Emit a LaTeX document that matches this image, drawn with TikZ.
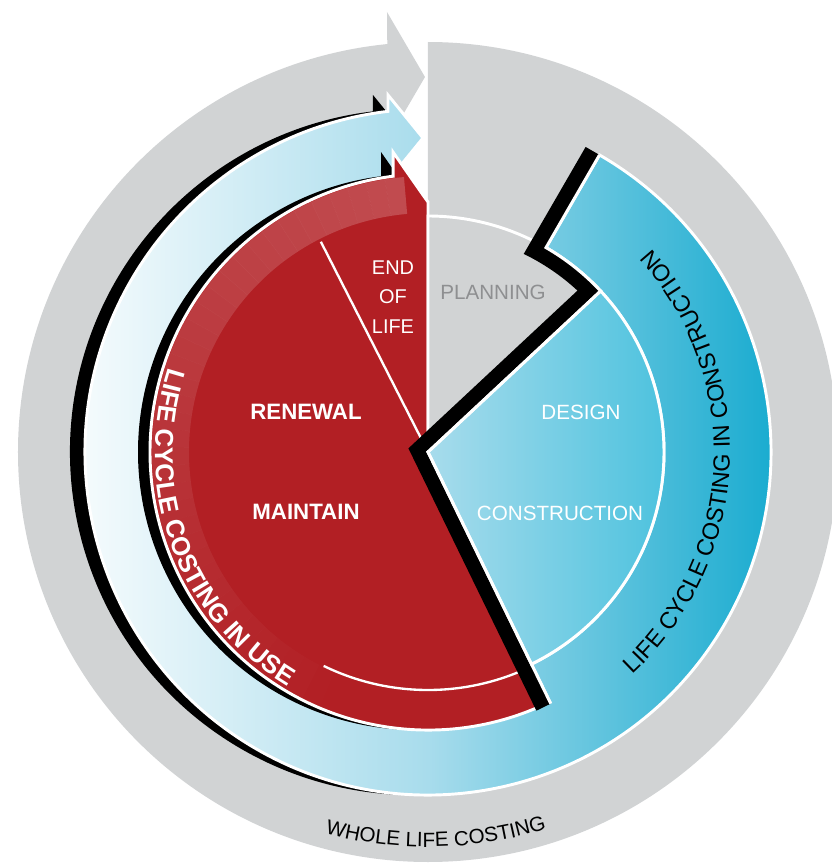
\documentclass[tikz,border=0pt]{standalone}
\usepackage{fontspec}
\setmainfont{Liberation Sans}
\usetikzlibrary{decorations.text}

\definecolor{wlcgray}{HTML}{D1D3D4}
\definecolor{lccred}{HTML}{B21F24}
\definecolor{lccblue}{HTML}{06A5CC}
\definecolor{lcclight}{HTML}{A8DCEC}
\definecolor{lccmid}{HTML}{4CC2DE}
\definecolor{plangray}{HTML}{8E8F91}

\newcommand{\graypath}{(0,0) -- (90:410) arc[start angle=90, end angle=-264.3, radius=410] -- (-41,440) -- (-3,375) -- (-41,310) -- cycle}
\newcommand{\bluepath}{(60:236) -- (60:343) arc[start angle=60, end angle=-263.3, radius=343] -- (-40,357) -- (-5,314) -- (-40,271) -- (-260.2:236) arc[start angle=-260.2, end angle=60, radius=236] -- cycle}
\newcommand{\redpath}{(0,0) -- (-64:278) arc[start angle=-64, end angle=-262.8, radius=278] -- (-35,300) -- (-5,257) -- (0,250) -- cycle}

\begin{document}
\begin{tikzpicture}[x=0.3mm, y=0.3mm,
		outline/.style={draw=white, line width=2.5pt, line join=miter},
		stagetext/.style={text=white, font=\fontsize{17.6}{22}\selectfont, inner sep=0pt, align=center},
		stagebold/.style={stagetext, font=\fontsize{19}{22}\selectfont\bfseries}]
		\useasboundingbox (-428,-415) rectangle (404,452);
		\fill[wlcgray] \graypath;
		\fill[black, shift={(-15,0)}] \bluepath;
		\shadedraw[left color=white, right color=lccblue, middle color=lcclight, outline] \bluepath;
		\fill[black, shift={(-12,0)}] \redpath;
		\filldraw[fill=lccred, outline] \redpath;
		\foreach \a in {95,99,...,247} {
			\pgfmathsetmacro\op{0.2*(250-\a)/155}
			\fill[white, fill opacity=\op] (\a:239) arc[start angle=\a, end angle=\a+4, radius=239] -- (\a+4:276) arc[start angle=\a+4, end angle=\a, radius=276] -- cycle;
		}
		\draw[white, line width=2pt] (-116:238) arc[start angle=-116, end angle=-64, radius=238];
		\draw[white, line width=2pt] (0,0) -- (117:236);
		\filldraw[fill=wlcgray, outline] (0,0) -- (43:236) arc[start angle=43, end angle=90, radius=236] -- cycle;
		\fill[black] ([shift={(150:16)}]60:343) -- (64.2:220) arc[start angle=64.2, end angle=47.2, radius=220] -- (169.5:19.9) -- ([shift={(-154:16)}]-64:280) -- (-64:280) -- (0,0) -- (43:236) arc[start angle=43, end angle=60, radius=236] -- (60:343) -- cycle;
		\shadedraw[left color=lcclight, right color=lccmid, outline] (0,0) -- (-64:236) arc[start angle=-64, end angle=43, radius=236] -- cycle;
		\draw[outline] (60:343) -- (60:236) arc[start angle=60, end angle=43, radius=236] -- (0,0) -- (-64:280);
		\node[stagetext, text=plangray] (planning) at (65,160) {PLANNING};
		\node[stagetext, font=\fontsize{17}{25}\selectfont] (endoflife) at (-35,155) {END\\OF\\LIFE};
		\node[stagebold] (renewal) at (-122,40) {RENEWAL};
		\node[stagebold] (maintain) at (-122,-60) {MAINTAIN};
		\node[stagetext] (design) at (153,40) {DESIGN};
		\node[stagetext] (construction) at (132,-61) {CONSTRUCTION};
		\path[decorate, decoration={text along path, text align=center, text color=white,
			text={|\fontsize{22}{26}\selectfont\bfseries|LIFE CYCLE COSTING IN USE}}]
		(150.5:273) arc[start angle=150.5, end angle=250.5, radius=273];
		\path[decorate, decoration={text along path, text align=center, text color=black,
			text={|\fontsize{20}{24}\selectfont|LIFE CYCLE COSTING IN CONSTRUCTION}}]
		(-57:302) arc[start angle=-57, end angle=52, radius=302];
		\path[decorate, decoration={text along path, text align=center, text color=black,
			text={|\fontsize{17.6}{22}\selectfont|WHOLE LIFE COSTING}}]
		(-120:395) arc[start angle=-120, end angle=-57.6, radius=395];
	\end{tikzpicture}
\end{document}
